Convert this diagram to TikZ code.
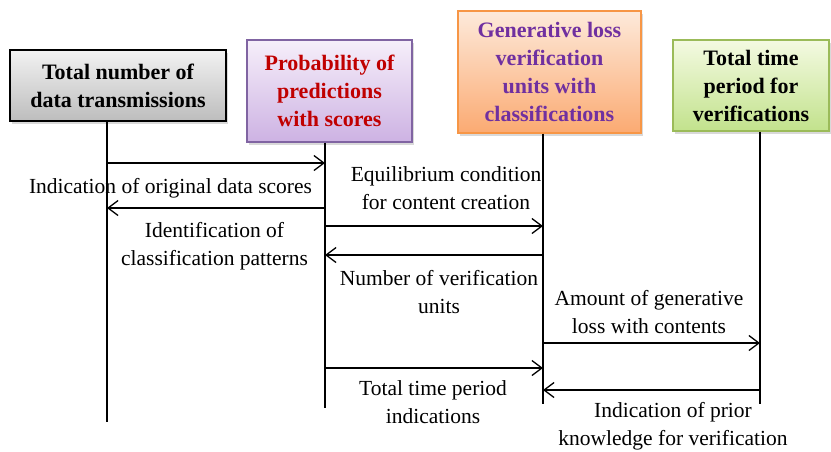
\documentclass[tikz,border=0pt]{standalone}
\usepackage{fontspec}
\setmainfont{Liberation Serif}
\usepackage{tikz}
\usetikzlibrary{shapes, arrows.meta, shadows}
\usetikzlibrary{positioning}

\definecolor{graytop}{HTML}{F2F2F2}
\definecolor{graybot}{HTML}{BDBDBD}
\definecolor{purptop}{HTML}{F6EFFA}
\definecolor{purpbot}{HTML}{CDB2E3}
\definecolor{purpline}{HTML}{8064A2}
\definecolor{orantop}{HTML}{FDEADB}
\definecolor{oranbot}{HTML}{FBAA72}
\definecolor{oranline}{HTML}{F79646}
\definecolor{greentop}{HTML}{F4FAE2}
\definecolor{greenbot}{HTML}{C2E28C}
\definecolor{greenline}{HTML}{9BBB59}
\definecolor{darkred}{HTML}{C00000}
\definecolor{darkpurp}{HTML}{7030A0}

\begin{document}
\begin{tikzpicture}[x=1pt, y=-1pt,
  box/.style={draw, line width=1.2pt, align=center, inner sep=2pt,
    font=\fontsize{22}{28}\selectfont\bfseries,
    drop shadow={shadow xshift=2pt, shadow yshift=-2.5pt, opacity=0.3}},
  life/.style={line width=1.3pt},
  msg/.style={line width=1.3pt, -{Straight Barb[length=10pt, width=15pt]}},
  lbl/.style={align=center, inner sep=0pt, font=\fontsize{21.5}{28}\selectfont}]

\useasboundingbox (0,0) rectangle (831,451);

\node[box, top color=graytop, bottom color=graybot,
  minimum width=216pt, minimum height=71pt] (data) at (118,85.5)
  {Total number of\\data transmissions};
\node[box, draw=purpline, text=darkred, top color=purptop, bottom color=purpbot,
  minimum width=165pt, minimum height=102pt] (prob) at (329.5,91)
  {Probability of\\predictions\\with scores};
\node[box, draw=oranline, text=darkpurp, top color=orantop, bottom color=oranbot,
  minimum width=183pt, minimum height=122pt] (gen) at (549.5,72)
  {Generative loss\\verification\\units with\\classifications};
\node[box, draw=greenline, top color=greentop, bottom color=greenbot,
  minimum width=156pt, minimum height=91pt] (time) at (751,85.5)
  {Total time\\period for\\verifications};

\coordinate (x1) at (107,422);
\coordinate (x2) at (325,408);
\coordinate (x3) at (543,404);
\coordinate (x4) at (760,404);

\coordinate (d1) at (107,163);
\coordinate (p1) at (325,163);
\coordinate (d2) at (107,208);
\coordinate (p2) at (325,208);
\coordinate (p3) at (325,226);
\coordinate (g3) at (543,226);
\coordinate (p4) at (325,255);
\coordinate (g4) at (543,255);
\coordinate (g5) at (543,343);
\coordinate (t5) at (760,343);
\coordinate (p6) at (325,368);
\coordinate (g6) at (543,368);
\coordinate (g7) at (543,390);
\coordinate (t7) at (760,390);

\draw[life]
 (data.south -| x1) edge (x1)
 (prob.south -| x2) edge (x2)
 (gen.south -| x3) edge (x3)
 (time.south -| x4) edge (x4)
;

\draw[msg] (d1) -- (p1);
\draw[msg] (p2) -- (d2);
\draw[msg] (p3) -- (g3);
\draw[msg] (g4) -- (p4);
\draw[msg] (g5) -- (t5);
\draw[msg] (p6) -- (g6);
\draw[msg] (t7) -- (g7);

\node[lbl] (scores) at (170.5,188) {Indication of original data scores};
\node[lbl] (patterns) at (214.5,246) {Identification of\\classification patterns};
\node[lbl] (equil) at (446,188) {Equilibrium condition\\for content creation};
\node[lbl] (units) at (439,292) {Number of verification\\units};
\node[lbl] (amount) at (649,312) {Amount of generative\\loss with contents};
\node[lbl] (period) at (433,402) {Total time period\\indications};
\node[lbl] (prior) at (673,426) {Indication of prior\\knowledge for verification};

\end{tikzpicture}
\end{document}
